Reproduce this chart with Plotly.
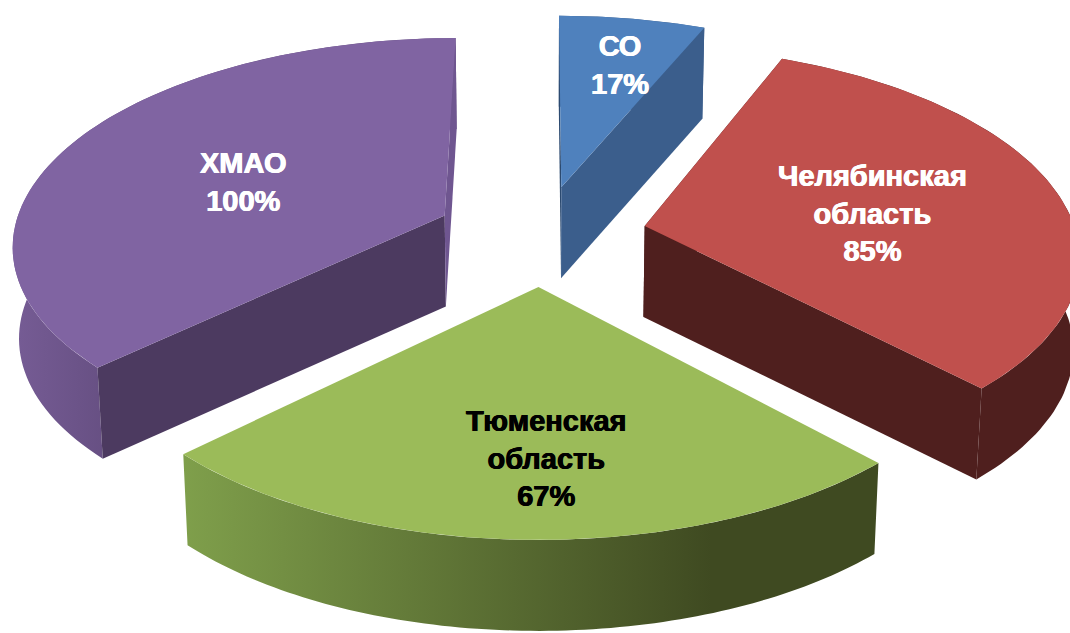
import numpy as np
import plotly.graph_objects as go

categories = ["СО", "Челябинская область", "Тюменская область", "ХМАО"]
values = [17, 85, 67, 100]
top_colors = ["#4f81bd", "#c0504d", "#9bbb59", "#8064a2"]
cut_start_colors = ["#2c4a70", "#4f1f1e", "#4f6228", "#4c3a60"]
cut_end_colors = ["#3b5e8c", "#4f1f1e", "#4f6228", "#6f5690"]
wall_scales = [
    [[0, "#3b5e8c"], [1, "#3b5e8c"]],
    [[0, "#4f1f1e"], [1, "#4f1f1e"]],
    [[0, "#7f9f4b"], [0.76, "#3f4a21"], [1, "#3f4a21"]],
    [[0, "#765c95"], [0.22, "#664f82"], [1, "#664f82"]],
]
label_colors = ["white", "white", "black", "white"]
label_centres = [(620, 65), (872, 213), (546, 458), (243, 182)]

CX, CY = 541, 235      # centre of the pie on the page
R = 432                # radius of the pie
E = 106                # explosion
K = 0.475              # vertical squash
P = 0.13 / R           # perspective strength
H = 91                 # thickness
TAPER = 0.012


def project(X, Y, down=0.0):
    X, Y = np.asarray(X, float), np.asarray(Y, float)
    s = 1 / (1 - P * Y)
    f = 1 - TAPER * down
    return CX + s * X * f, CY + s * Y * K + down * H


fig = go.Figure()


def poly(px, py, color=None, scale=None, edge=None):
    kw = dict(fillgradient=dict(type="horizontal", colorscale=scale)) if scale else dict(fillcolor=color)
    line = dict(width=1, color=edge) if edge else dict(width=0)
    fig.add_trace(go.Scatter(x=px, y=py, mode="lines", fill="toself", line=line,
                             hoverinfo="skip", showlegend=False, **kw))


total = sum(values)
edges = np.concatenate([[0], np.cumsum(values)]) / total * 2 * np.pi
slices = [dict(i=i, a0=edges[i], a1=edges[i + 1]) for i in range(len(values))]

for sl in [slices[k] for k in (0, 3, 1, 2)]:
    i, a0, a1 = sl["i"], sl["a0"], sl["a1"]
    mid = (a0 + a1) / 2
    ox, oy = E * np.sin(mid), -E * np.cos(mid)
    th = np.linspace(a0, a1, 90)
    ax, ay = ox + R * np.sin(th), oy - R * np.cos(th)
    tx, ty = project(ax, ay)
    bx, by = project(ax, ay, 1)
    stops = wall_scales[i]
    flat = stops[0][1] == stops[-1][1]

    # outer wall: a band of small quads, so the silhouette stays tangent at the side
    wx, wy = [], []
    for n in range(len(th) - 1):
        wx += [tx[n], tx[n + 1], bx[n + 1], bx[n], tx[n], None]
        wy += [ty[n], ty[n + 1], by[n + 1], by[n], ty[n], None]
    if flat:
        poly(np.r_[tx, bx[::-1], tx[0]], np.r_[ty, by[::-1], ty[0]], color=stops[0][1])
    else:
        poly(wx[:-1], wy[:-1], scale=stops)

    # cut faces: only those turned towards the viewer are painted over the wall
    for j, col in ((0, cut_start_colors[i]), (-1, cut_end_colors[i])):
        if i == 2:
            continue
        x1, y1 = project(ox, oy)
        x2, y2 = project(ax[j], ay[j])
        x3, y3 = project(ax[j], ay[j], 1)
        x4, y4 = project(ox, oy, 1)
        poly([x1, x2, x3, x4, x1], [y1, y2, y3, y4, y1], color=col)

    # top face
    ox2, oy2 = project(ox, oy)
    poly(np.r_[ox2, tx, ox2], np.r_[oy2, ty, oy2], color=top_colors[i])

for cat, val, col, (lx, ly) in zip(categories, values, label_colors, label_centres):
    txt = cat.replace(" ", "<br>") + f"<br>{val}%"
    fig.add_annotation(x=lx, y=ly, text=txt, showarrow=False, align="center",
                       font=dict(family="Liberation Sans", size=29, color=col, weight="bold",
                                 shadow=f"0.5px 0 0 {col}, -0.5px 0 0 {col}"))

fig.update_layout(
    width=1070, height=633, margin=dict(l=0, r=0, t=0, b=0),
    paper_bgcolor="white", plot_bgcolor="white", showlegend=False,
    xaxis=dict(range=[0, 1070], visible=False, fixedrange=True),
    yaxis=dict(range=[633, 0], visible=False, fixedrange=True),
)
fig.write_html("out.html", config=dict(displayModeBar=False),
               post_script="document.body.style.margin='0';document.body.style.overflow='hidden';")
